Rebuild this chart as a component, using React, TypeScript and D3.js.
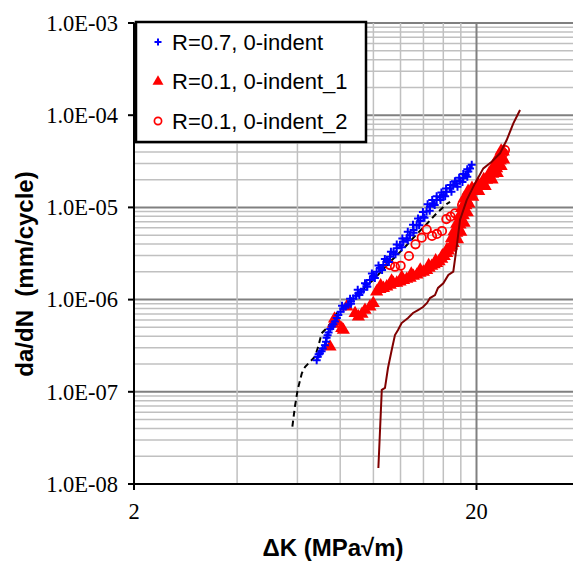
import React from 'react'
import * as d3 from 'd3'

// R=0.7, 0-indent (blue plus markers)
const r07: [number, number][] = [
  [6.83, 2.2e-7], [6.88, 2.4e-7], [6.92, 2.55e-7], [6.98, 2.6e-7], [7.06, 2.75e-7],
  [7.12, 2.95e-7], [7.22, 3.2e-7], [7.27, 3.5e-7], [7.3, 3.85e-7], [7.35, 4.1e-7],
  [7.4, 4.4e-7], [7.48, 4.8e-7], [7.56, 5.1e-7], [7.64, 5.4e-7], [7.73, 5.8e-7],
  [7.82, 6.3e-7], [7.9, 6.8e-7], [8.02, 7.4e-7], [8.17, 8.0e-7], [8.3, 8.4e-7],
  [8.45, 8.8e-7], [8.6, 9.6e-7], [8.74, 1.03e-6], [8.9, 1.1e-6], [9.04, 1.17e-6],
  [9.2, 1.22e-6], [9.35, 1.28e-6], [9.55, 1.45e-6], [9.77, 1.63e-6], [10.0, 1.8e-6],
  [10.22, 2.0e-6], [10.45, 2.2e-6], [10.69, 2.37e-6], [10.95, 2.65e-6], [11.18, 2.92e-6],
  [11.45, 3.25e-6], [11.7, 3.6e-6], [11.95, 3.9e-6], [12.23, 4.25e-6], [12.5, 4.6e-6],
  [12.79, 5.0e-6], [13.1, 5.7e-6], [13.38, 6.4e-6], [13.7, 7.1e-6], [13.99, 7.9e-6],
  [14.3, 9.0e-6], [14.63, 1.02e-5], [14.95, 1.1e-5], [15.3, 1.2e-5], [15.65, 1.28e-5],
  [16.0, 1.36e-5], [16.35, 1.48e-5], [16.74, 1.61e-5], [17.1, 1.72e-5], [17.51, 1.82e-5],
  [17.9, 1.95e-5], [18.31, 2.07e-5], [18.6, 2.25e-5], [18.93, 2.45e-5], [19.15, 2.65e-5],
  [19.37, 2.9e-5],
  [8.1, 8.6e-7], [8.55, 1.02e-6], [9.0, 1.28e-6], [9.45, 1.5e-6], [9.9, 1.92e-6],
  [10.35, 2.35e-6], [10.8, 2.75e-6], [11.25, 3.3e-6], [11.7, 3.95e-6], [12.15, 4.6e-6],
  [12.6, 5.45e-6], [13.05, 6.5e-6], [13.5, 7.6e-6], [13.95, 8.9e-6], [14.4, 1.08e-5],
  [14.85, 1.2e-5], [15.3, 1.32e-5], [15.8, 1.45e-5], [16.3, 1.6e-5], [16.8, 1.75e-5],
  [17.3, 1.92e-5], [17.8, 2.1e-5], [18.3, 2.3e-5], [18.8, 2.6e-5],
  [8.6, 9.0e-7], [9.1, 1.12e-6], [9.6, 1.38e-6], [10.1, 1.72e-6], [10.6, 2.1e-6],
  [11.1, 2.55e-6], [11.6, 3.1e-6], [12.1, 3.7e-6], [12.6, 4.4e-6], [13.1, 5.3e-6],
  [13.6, 6.4e-6], [14.1, 7.7e-6], [14.6, 9.2e-6], [15.1, 1.06e-5], [15.7, 1.2e-5],
  [16.2, 1.32e-5], [16.9, 1.48e-5], [17.6, 1.68e-5], [18.2, 1.88e-5], [18.8, 2.15e-5],
]

// R=0.1, 0-indent_1 (red filled triangles)
const r01a: [number, number][] = [
  [7.47, 3.08e-7], [7.64, 5.43e-7], [7.81, 5.76e-7], [7.7, 6.2e-7], [8.08, 4.89e-7],
  [8.17, 4.68e-7], [8.36, 8.38e-7], [8.84, 7.1e-7], [9.04, 6.53e-7], [9.26, 6.98e-7],
  [9.45, 7.71e-7], [9.77, 8.38e-7], [9.99, 9.12e-7], [10.22, 1.22e-6], [10.45, 1.3e-6],
  [10.7, 1.33e-6], [10.94, 1.38e-6], [11.2, 1.44e-6], [11.43, 1.51e-6], [11.7, 1.52e-6],
  [11.96, 1.56e-6], [12.25, 1.62e-6], [12.51, 1.67e-6], [12.8, 1.72e-6], [13.08, 1.8e-6],
  [13.4, 1.86e-6], [13.68, 1.94e-6], [14.0, 2.0e-6], [14.31, 2.09e-6], [14.55, 2.2e-6],
  [14.8, 2.31e-6], [15.05, 2.4e-6], [15.3, 2.48e-6], [15.55, 2.6e-6], [15.83, 2.76e-6],
  [16.1, 2.95e-6], [16.37, 3.18e-6], [16.55, 3.4e-6], [16.74, 3.63e-6], [16.9, 3.85e-6],
  [17.11, 4.08e-6], [17.3, 4.6e-6], [17.51, 5.28e-6], [17.7, 5.98e-6], [17.9, 6.5e-6],
  [18.11, 7.12e-6], [18.3, 8.2e-6], [18.52, 9.37e-6], [18.62, 1.05e-5], [18.72, 1.2e-5],
  [18.95, 1.32e-5], [19.14, 1.42e-5], [19.6, 1.52e-5], [20.03, 1.61e-5], [20.5, 1.72e-5],
  [20.94, 1.82e-5], [21.4, 1.98e-5], [21.9, 2.15e-5], [22.3, 2.3e-5], [22.65, 2.44e-5],
  [22.9, 2.65e-5], [23.15, 2.88e-5], [23.45, 3.2e-5], [23.69, 3.55e-5], [23.94, 4.02e-5],
  [16.9, 4.6e-6], [17.2, 5.5e-6], [17.5, 6.6e-6], [17.8, 8.0e-6], [18.1, 9.8e-6],
  [18.4, 1.25e-5], [18.9, 1.5e-5], [19.4, 1.62e-5], [20.2, 1.8e-5], [21.0, 2.02e-5],
  [21.8, 2.35e-5], [22.4, 2.7e-5], [22.8, 3.1e-5], [23.2, 3.6e-5], [23.6, 4.1e-5],
  [17.6, 4.5e-6], [18.0, 5.4e-6], [18.4, 6.8e-6], [18.8, 8.8e-6], [19.0, 1.1e-5],
  [19.5, 1.3e-5], [20.3, 1.5e-5], [21.2, 1.7e-5], [22.2, 2.0e-5], [23.0, 2.35e-5],
  [23.6, 2.8e-5], [24.0, 3.3e-5],
  [10.5, 1.42e-6], [11.3, 1.6e-6], [12.1, 1.75e-6], [12.9, 1.9e-6], [13.7, 2.1e-6],
  [14.5, 2.35e-6], [15.2, 2.65e-6], [15.9, 3.0e-6], [16.4, 3.5e-6],
]

// R=0.1, 0-indent_2 (red open circles)
const r01b: [number, number][] = [
  [11.18, 2.37e-6], [11.56, 2.27e-6], [12.01, 2.33e-6], [12.7, 2.97e-6], [13.27, 3.98e-6],
  [13.84, 4.69e-6], [14.31, 5.76e-6], [14.83, 4.9e-6], [15.33, 5.15e-6], [15.86, 5.55e-6],
  [16.33, 7.48e-6], [16.8, 7.97e-6], [17.31, 8.63e-6], [18.15, 1.06e-5], [19.14, 1.36e-5],
  [20.47, 1.75e-5], [21.9, 2.14e-5], [22.96, 2.67e-5], [23.58, 3.27e-5], [23.98, 3.89e-5],
  [24.22, 4.19e-5],
]

// dark red curve (no legend entry)
const curveA: [number, number][] = [
  [10.34, 1.49e-8], [10.58, 1.05e-7], [10.81, 1.1e-7], [11.03, 1.81e-7], [11.31, 2.84e-7],
  [11.56, 4.13e-7], [11.8, 4.68e-7], [12.09, 5.57e-7], [12.62, 6.31e-7], [13.05, 7.16e-7],
  [13.5, 7.71e-7], [13.96, 8.31e-7], [14.34, 9.19e-7], [14.63, 1.04e-6], [15.13, 1.12e-6],
  [15.44, 1.34e-6], [16.0, 1.5e-6], [16.55, 1.85e-6], [17.11, 2.01e-6], [17.51, 3.75e-6],
  [17.9, 7.3e-6], [18.72, 1.2e-5], [19.8, 1.82e-5], [20.94, 2.65e-5], [22.15, 3.13e-5],
  [23.43, 3.86e-5], [24.5, 5.38e-5], [25.62, 8.17e-5], [26.8, 1.14e-4],
]

// black dashed curve (no legend entry)
const curveB: [number, number][] = [
  [5.8, 4.19e-8], [5.9, 6.89e-8], [6.01, 1.05e-7], [6.18, 1.59e-7], [6.32, 1.87e-7],
  [6.53, 2.12e-7], [6.75, 2.4e-7], [6.9, 3.08e-7], [7.06, 4.31e-7], [7.3, 4.89e-7],
  [7.56, 5.76e-7], [7.81, 7.1e-7], [8.26, 8.74e-7], [9.14, 1.21e-6], [10.11, 1.71e-6],
  [11.18, 2.56e-6], [12.37, 3.72e-6], [13.23, 4.9e-6], [14.31, 6.61e-6], [15.3, 8.63e-6],
  [16.37, 1.09e-5], [16.74, 1.15e-5],
]

const xGridMinor = [4, 6, 8, 10, 12, 14, 16, 18]
const xGridMajor = [20, 40]
const xTickValues = [2, 20]
const xTickLabels = ['2', '20']
const yTickValues = [1e-8, 1e-7, 1e-6, 1e-5, 1e-4, 1e-3]
const yTickLabels = ['1.0E-08', '1.0E-07', '1.0E-06', '1.0E-05', '1.0E-04', '1.0E-03']
const legendLabels = ['R=0.7, 0-indent', 'R=0.1, 0-indent_1', 'R=0.1, 0-indent_2']

const W = 573
const H = 563
const left = 134
const top = 23
const bottom = 484
const decadeX = 342.5

const serif = '"Liberation Serif", "Times New Roman", serif'
const sans = '"Liberation Sans", Arial, sans-serif'

export default function App() {
  const x = d3.scaleLog().domain([2, 40]).range([left, left + decadeX * Math.log10(20)])
  const y = d3.scaleLog().domain([1e-8, 1e-3]).range([bottom, top])
  const yGrid = y.ticks()

  const line = d3.line<[number, number]>().x(d => x(d[0])).y(d => y(d[1]))
  const tri = d3.symbol().type(d3.symbolTriangle).size(75)()
  const triSmall = d3.symbol().type(d3.symbolTriangle).size(52)()
  const plus = (cx: number, cy: number, s: number) =>
    `M${cx - s},${cy}H${cx + s}M${cx},${cy - s}V${cy + s}`

  return (
    <svg width={W} height={H} style={{ position: 'absolute', left: 0, top: 0, background: '#fff' }}>
      <defs>
        <clipPath id="plot">
          <rect x={left} y={top - 2} width={W - left} height={bottom - top + 2} />
        </clipPath>
      </defs>
      <g clipPath="url(#plot)">
        {yGrid.map((v, i) => {
          const major = Math.abs(Math.log10(v) - Math.round(Math.log10(v))) < 1e-6
          return (
            <line key={'hy' + i} x1={left} x2={W} y1={y(v)} y2={y(v)}
              stroke={major ? '#808080' : '#c0c0c0'} strokeWidth={major ? 2 : 1.5} />
          )
        })}
        {xGridMinor.map(v => (
          <line key={'gx' + v} x1={x(v)} x2={x(v)} y1={top} y2={bottom} stroke="#c0c0c0" strokeWidth={1.5} />
        ))}
        {xGridMajor.map(v => (
          <line key={'gX' + v} x1={x(v)} x2={x(v)} y1={top} y2={bottom} stroke="#808080" strokeWidth={2} />
        ))}

        <path d={line(curveB) || ''} fill="none" stroke="#000" strokeWidth={2} strokeDasharray="6,4" />
        {r01a.map((d, i) => (
          <path key={'t' + i} d={tri} transform={`translate(${x(d[0])},${y(d[1])})`} fill="#ff0000" />
        ))}
        {r01b.map((d, i) => (
          <circle key={'c' + i} cx={x(d[0])} cy={y(d[1])} r={4.2} fill="none" stroke="#ff0000" strokeWidth={1.8} />
        ))}
        <path d={line(curveA) || ''} fill="none" stroke="#800000" strokeWidth={2} />
        {r07.map((d, i) => (
          <path key={'p' + i} d={plus(x(d[0]), y(d[1]), 4)} stroke="#0000ff" strokeWidth={2} />
        ))}
      </g>

      {/* axes */}
      <line x1={left} x2={left} y1={top} y2={bottom} stroke="#000" strokeWidth={2} />
      <line x1={left} x2={W} y1={bottom} y2={bottom} stroke="#000" strokeWidth={2} />
      {yTickValues.map((v, i) => (
        <g key={'yt' + i}>
          <line x1={left - 6} x2={left} y1={y(v)} y2={y(v)} stroke="#000" strokeWidth={2} />
          <text x={118} y={y(v)} dy="0.35em" textAnchor="end" fontFamily={serif} fontSize={22.5}>
            {yTickLabels[i]}
          </text>
        </g>
      ))}
      {xTickValues.map((v, i) => (
        <g key={'xt' + i}>
          <line x1={x(v)} x2={x(v)} y1={bottom} y2={bottom + 6} stroke="#000" strokeWidth={2} />
          <text x={x(v)} y={519} textAnchor="middle" fontFamily={serif} fontSize={22.5}>
            {xTickLabels[i]}
          </text>
        </g>
      ))}

      <text x={333} y={556} textAnchor="middle" fontFamily={sans} fontWeight="bold" fontSize={24}>
        ΔK (MPa√m)
      </text>
      <text transform="translate(33,274) rotate(-90)" textAnchor="middle" fontFamily={sans}
        fontWeight="bold" fontSize={24} style={{ whiteSpace: 'pre' }}>
        {'da/dN  (mm/cycle)'}
      </text>

      {/* legend */}
      <rect x={136} y={22} width={230} height={120} fill="#fff" stroke="#000" strokeWidth={2.5} />
      {legendLabels.map((t, i) => {
        const ly = 42 + i * 39.5
        return (
          <g key={'lg' + i}>
            {i === 0 && <path d={plus(158, ly, 3.5)} stroke="#0000ff" strokeWidth={2} />}
            {i === 1 && <path d={triSmall || ''} transform={`translate(158,${ly})`} fill="#ff0000" />}
            {i === 2 && <circle cx={158} cy={ly} r={3.6} fill="none" stroke="#ff0000" strokeWidth={1.7} />}
            <text x={172} y={ly} dy="0.36em" fontFamily={sans} fontSize={22}>{t}</text>
          </g>
        )
      })}
    </svg>
  )
}
